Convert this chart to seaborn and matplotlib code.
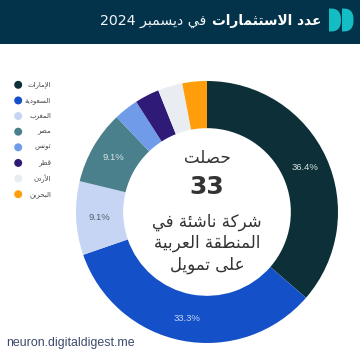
import unicodedata
import numpy as np
import matplotlib
matplotlib.use("Agg")
import matplotlib.pyplot as plt
from matplotlib.patches import Rectangle
import seaborn as sns
import pandas as pd

countries = ["الإمارات", "السعودية", "المغرب", "مصر", "تونس", "قطر", "الأردن", "البحرين"]
startups = [12, 11, 3, 3, 1, 1, 1, 1]
colors = ["#0d3038", "#1450c8", "#c5d5f3", "#4a808c", "#6f9be8", "#2f1a78", "#e9ecf1", "#ff9e0a"]
title_bold = "عدد الاستثمارات"
title_regular = "في ديسمبر"
title_year = "2024"
center_top = "حصلت"
center_number = "33"
center_lines = ["شركة ناشئة في", "المنطقة العربية", "على تمويل"]
footer = "neuron.digitaldigest.me"

RIGHT_JOIN = set("اأإآدذرزوؤةى")
LAM_ALEF = {"ا": "ALEF", "أ": "ALEF WITH HAMZA ABOVE", "إ": "ALEF WITH HAMZA BELOW", "آ": "ALEF WITH MADDA ABOVE"}


def form(ch, f):
    return unicodedata.lookup(unicodedata.name(ch) + " " + f + " FORM")


def shape(text):
    """Arabic letters to presentation forms in visual (left to right) order."""
    out = []
    for word in text.split(" "):
        glyphs = []
        i = 0
        joins_prev = False
        while i < len(word):
            ch = word[i]
            if ch == "ل" and i + 1 < len(word) and word[i + 1] in LAM_ALEF:
                f = "FINAL" if joins_prev else "ISOLATED"
                glyphs.append(unicodedata.lookup("ARABIC LIGATURE LAM WITH " + LAM_ALEF[word[i + 1]] + " " + f + " FORM"))
                joins_prev = False
                i += 2
                continue
            has_next = i + 1 < len(word)
            joins_next = ch not in RIGHT_JOIN and has_next
            if joins_prev and joins_next:
                f = "MEDIAL"
            elif joins_prev:
                f = "FINAL"
            elif joins_next:
                f = "INITIAL"
            else:
                f = "ISOLATED"
            glyphs.append(form(ch, f))
            joins_prev = joins_next
            i += 1
        out.append("".join(reversed(glyphs)))
    return " ".join(reversed(out))


sns.set_theme(style="white")
plt.rcParams["font.family"] = ["DejaVu Sans"]
W = H = 360
fig = plt.figure(figsize=(W / 100, H / 100), dpi=100, facecolor="white")


def px(x, y):
    return x / W, 1 - y / H


# header and icon
ic = fig.add_axes([0, 0, 1, 1], facecolor="none")
ic.set_xlim(0, W)
ic.set_ylim(H, 0)
ic.axis("off")
ic.add_patch(Rectangle((0, 0), W, 44, color="#03334a", linewidth=0))
t = np.linspace(-np.pi / 2, np.pi / 2, 60)
for left, width in [(329, 12), (342, 11.5)]:
    ic.fill(left + width * np.cos(t) ** 0.65,
            20 + 11.5 * np.sign(np.sin(t)) * np.abs(np.sin(t)) ** 0.85,
            color="#14bcc4", linewidth=0)
fig.text(*px(321, 21), shape(title_bold), color="white", fontsize=9.9, fontweight="bold", ha="right", va="center")
fig.text(*px(206, 21), title_year + " " + shape(title_regular), color="#f2f5f7", fontsize=10.2, ha="right", va="center")

# donut
cx, cy, r = 207, 212, 131
ax = fig.add_axes([(cx - r) / W, 1 - (cy + r) / H, 2 * r / W, 2 * r / H])
df = pd.DataFrame({"country": countries, "startups": startups})


def pct(v):
    return f"{v:.1f}%" if v > 5 else ""


wedges, _, autotexts = ax.pie(
    df["startups"], colors=colors, startangle=90, counterclock=False,
    wedgeprops={"width": 0.36, "linewidth": 0}, autopct=pct, pctdistance=0.825,
    textprops={"fontsize": 6.8, "family": "Liberation Sans"},
)
for txt, c in zip(autotexts, ["#d9e3e6", "#c5d5f3", "#55606e", "#d9e3e6", "", "", "", ""]):
    if c:
        txt.set_color(c)
ax.set_xlim(-1, 1)
ax.set_ylim(-1, 1)

ax.text(0, 0.415, shape(center_top), ha="center", va="center", fontsize=12, color="#333333")
ax.text(0, 0.19, center_number, ha="center", va="center", fontsize=18, fontweight="bold", color="#333333")
for line, y in zip(center_lines, [-0.08, -0.24, -0.405]):
    ax.text(0, y, shape(line), ha="center", va="center", fontsize=12, color="#333333")

# legend
lg = fig.add_axes([10 / W, 1 - 202 / H, 41 / W, 125 / H], facecolor="none")
sns.scatterplot(data=df, x=[0] * len(df), y="country", hue="country", palette=colors, s=33,
                legend=False, ax=lg, linewidth=0)
lg.set_xlim(-0.25, 1)
lg.set_ylim(len(df) - 0.5, -0.5)
lg.axis("off")
for i, name in enumerate(countries):
    lg.text(1, i, shape(name), ha="right", va="center", fontsize=5, color="#444444")

fig.text(*px(6, 343), footer, fontsize=8.9, color="#3c4a6a", family="Liberation Sans", ha="left", va="center")
fig.savefig("out.png", dpi=100)
